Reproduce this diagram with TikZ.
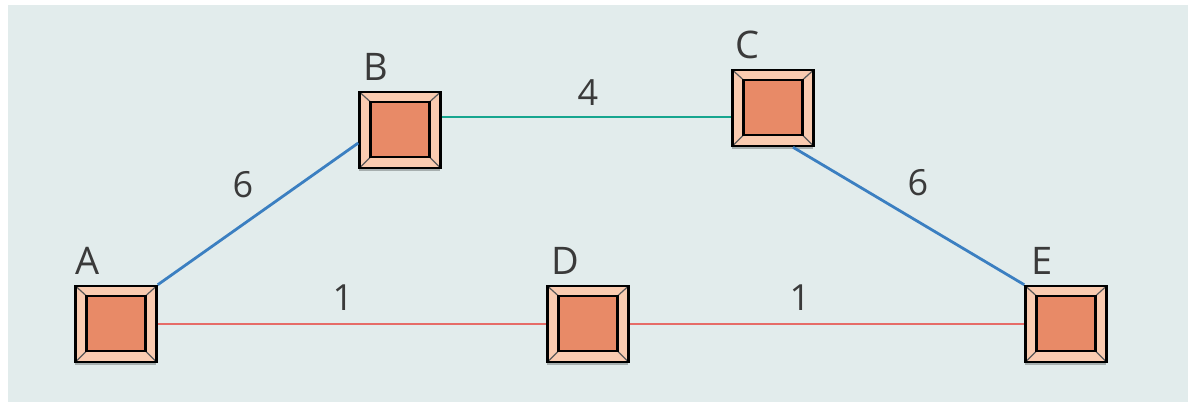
\documentclass[tikz,border=0pt]{standalone}
\usepackage{fontspec}
\setmainfont{Open Sans}
\usetikzlibrary{calc,shadows}
\definecolor{bgc}{HTML}{E2ECEC}
\definecolor{peach}{HTML}{FACBB0}
\definecolor{salmon}{HTML}{E88A67}
\definecolor{eblue}{HTML}{3B7FC1}
\definecolor{eteal}{HTML}{17A68F}
\definecolor{ered}{HTML}{E66C68}
\definecolor{lbl}{HTML}{3A3A3A}
\definecolor{shade}{HTML}{8E9696}
\tikzset{
 vbox/.style={draw=black, line width=2.5pt, fill=peach, minimum width=81pt, minimum height=76pt, inner sep=0pt,
   drop shadow={shadow xshift=-1pt, shadow yshift=-3pt, fill=shade, opacity=0.7},
   path picture={
     \draw[line width=1.2pt, black!65] (path picture bounding box.south west) -- ++(11pt,11pt);
     \draw[line width=1.2pt, black!65] (path picture bounding box.south east) -- ++(-11pt,11pt);
     \draw[line width=1.2pt, black!65] (path picture bounding box.north west) -- ++(11pt,-10pt);
     \draw[line width=1.2pt, black!65] (path picture bounding box.north east) -- ++(-11pt,-10pt);
     \filldraw[fill=salmon, draw=black, line width=2.5pt]
       ($(path picture bounding box.south west)+(11pt,11pt)$) rectangle
       ($(path picture bounding box.north east)+(-11pt,-10pt)$);
   }},
 vlabel/.style={font=\fontsize{38}{40}\selectfont, text=lbl, inner sep=0pt, anchor=base west},
 elabel/.style={font=\fontsize{36}{40}\selectfont, text=lbl, inner sep=0pt},
 edgeline/.style={line width=2.8pt}
}
\begin{document}
\begin{tikzpicture}[x=1pt, y=-1pt]
\useasboundingbox (0,0) rectangle (1188,402);
\fill[bgc] (8,5) rectangle (1188,402);

\node[vbox] (A) at (116,324) {};
\node[vbox] (B) at (400,130) {};
\node[vbox] (C) at (773,108) {};
\node[vbox] (D) at (588,324) {};
\node[vbox] (E) at (1066,324) {};

\node[vlabel] (lA) at ($(A.north west)+(1pt,10pt)$) {A};
\node[vlabel] (lB) at ($(B.north west)+(5pt,10pt)$) {B};
\node[vlabel] (lC) at ($(C.north west)+(4pt,10pt)$) {C};
\node[vlabel] (lD) at ($(D.north west)+(5pt,10pt)$) {D};
\node[vlabel] (lE) at ($(E.north west)+(7pt,10pt)$) {E};

\draw[edgeline, eblue] (A.north east) -- ($(B.west)+(0,-13pt)$);
\draw[edgeline, eteal] (B.east |- 0,117) -- (C.west |- 0,117);
\draw[edgeline, eblue] ($(C.south)+(20pt,0)$) -- (E.north west);
\draw[edgeline, ered] (A.east) -- (D.west);
\draw[edgeline, ered] (D.east) -- (E.west);

\node[elabel] (w1) at (243,185) {6};
\node[elabel] (w2) at (588,93) {4};
\node[elabel] (w3) at (918,183) {6};
\node[elabel] (w4) at (343,298) {1};
\node[elabel] (w5) at (800,298) {1};
\end{tikzpicture}
\end{document}
